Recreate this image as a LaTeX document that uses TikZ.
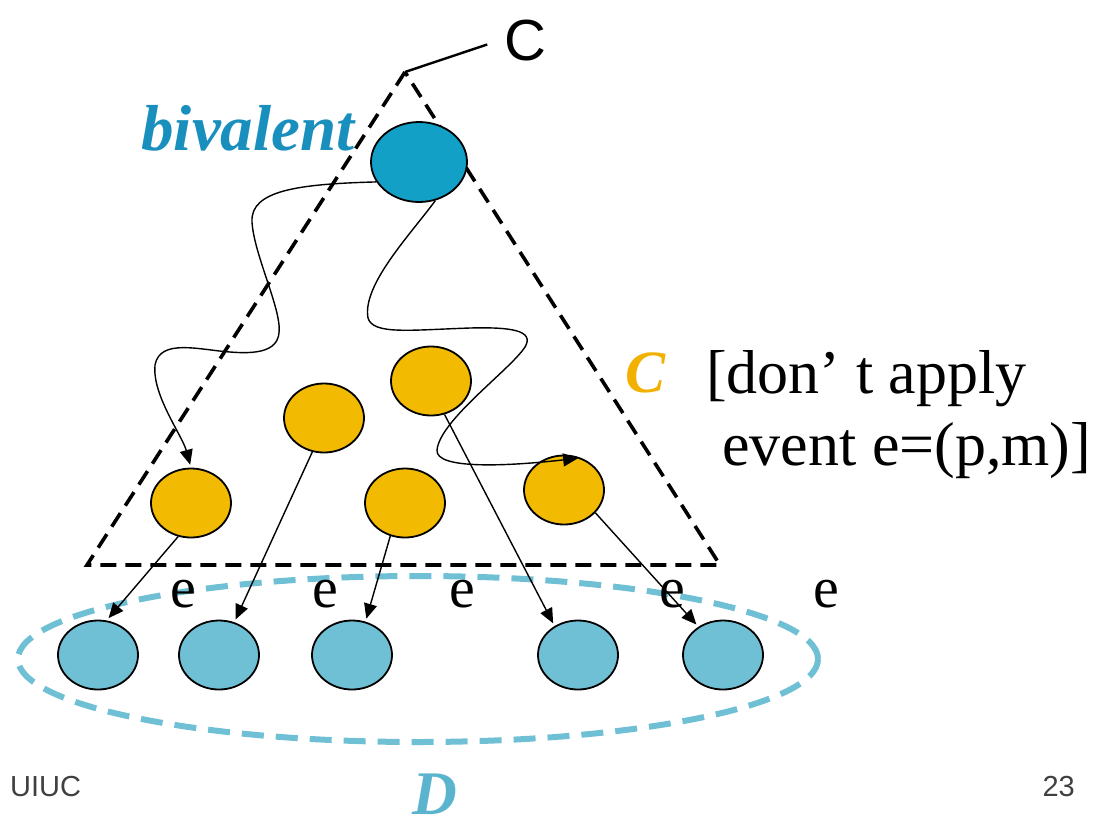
\documentclass[tikz,border=0pt]{standalone}
\usepackage{fontspec}
\setmainfont{Liberation Serif}
\newfontfamily\helv{Liberation Sans}
\usetikzlibrary{arrows.meta, shapes.geometric}

\definecolor{bivblue}{RGB}{19,160,199}
\definecolor{bivtext}{RGB}{25,143,190}
\definecolor{confyel}{RGB}{242,186,0}
\definecolor{ctext}{RGB}{242,176,0}
\definecolor{dblue}{RGB}{112,192,213}
\definecolor{dtext}{RGB}{90,180,205}
\definecolor{footgray}{RGB}{64,64,64}

\tikzset{
    config/.style={ellipse, draw=black, line width=1.8pt, inner sep=0pt,
        minimum width=80pt, minimum height=69pt},
    yelconf/.style={config, fill=confyel},
    dconf/.style={config, fill=dblue},
    step arrow/.style={->, line width=1.4pt, shorten >=3pt},
    evlabel/.style={anchor=base, font=\fontsize{58}{60}\selectfont}
}

\begin{document}
\begin{tikzpicture}[x=1pt, y=-1pt, >={Triangle[length=15pt, width=13pt]}]
    \useasboundingbox (0,0) rectangle (1115,817);

    % ==========================================
    % The dashed triangle of reachable configurations C
    % ==========================================
    \coordinate (apex) at (405,72);
    \coordinate (baseL) at (87,565);
    \coordinate (baseR) at (720,565);
    \draw[line width=3.6pt, dash pattern=on 16pt off 9pt] (apex) -- (baseL) -- (baseR) -- cycle;

    \node[font=\helv\fontsize{58}{60}\selectfont, anchor=base] (lblC) at (525,60) {C};
    \draw[line width=2.4pt, shorten >=14pt] (apex) -- (lblC.west);

    % ==========================================
    % The set D, dashed
    % ==========================================
    \draw[dblue, line width=6pt, dash pattern=on 22pt off 12pt] (418,659) ellipse [x radius=400pt, y radius=83pt];

    % ==========================================
    % Configurations
    % ==========================================
    \node[config, fill=bivblue, minimum width=96pt, minimum height=80pt] (biv) at (419,162) {};
    \node[anchor=base, text=bivtext, font=\bfseries\itshape\fontsize{65}{66}\selectfont] (lblbiv) at (248,150) {bivalent};

    \node[yelconf] (y1) at (191,503) {};
    \node[yelconf] (y2) at (324,418) {};
    \node[yelconf] (y3) at (431,381) {};
    \node[yelconf] (y4) at (405,503) {};
    \node[yelconf] (y5) at (564,490) {};

    \node[dconf] (d1) at (98,655) {};
    \node[dconf] (d2) at (219,655) {};
    \node[dconf] (d3) at (352,655) {};
    \node[dconf] (d4) at (578,655) {};
    \node[dconf] (d5) at (723,655) {};

    % Wavy runs inside C
    \draw[step arrow] (biv.205) .. controls (300,184) and (250,190) .. (252,222)
        .. controls (254,255) and (282,310) .. (279,333)
        .. controls (277,352) and (255,354) .. (230,352)
        .. controls (200,350) and (160,338) .. (155,365)
        .. controls (152,395) and (182,435) .. (y1.north);
    \draw[step arrow] (biv.293) .. controls (410,235) and (362,285) .. (368,318)
        .. controls (373,335) and (410,330) .. (470,328)
        .. controls (510,327) and (535,330) .. (525,347)
        .. controls (510,370) and (440,420) .. (437,450)
        .. controls (435,470) and (510,466) .. (y5.62);

    % Applying e
    \draw[step arrow] (y1.249) -- (d1.76);
    \draw[step arrow] (y2.251) -- (d2.65);
    \draw[step arrow] (y4.246) -- (d3.68);
    \draw[step arrow] (y3.292) -- (d4.129);
    \draw[step arrow] (y5.324) -- (d5.131);

    \foreach \ex [count=\i] in {183,325,462,672,826}
        \node[evlabel] (ev\i) at (\ex,607) {e};

    % ==========================================
    % Labels
    % ==========================================
    \node[anchor=base, text=ctext, font=\bfseries\itshape\fontsize{60}{62}\selectfont] (lblCset) at (645,392) {C};
    \node[anchor=base west, inner sep=0pt, font=\fontsize{62}{64}\selectfont] (rule1) at (706,393) {[don’ t apply};
    \node[anchor=base west, inner sep=0pt, font=\fontsize{62}{64}\selectfont] (rule2) at (722,465) {event e=(p,m)]};
    \node[anchor=base, text=dtext, font=\bfseries\itshape\fontsize{62}{64}\selectfont] (lblD) at (435,814) {D};

    \node[anchor=base west, inner sep=0pt, text=footgray, font=\helv\fontsize{29}{30}\selectfont] (foot) at (10,796) {UIUC};
    \node[anchor=base east, inner sep=0pt, text=footgray, font=\helv\fontsize{29}{30}\selectfont] (page) at (1075,796) {23};
\end{tikzpicture}
\end{document}
